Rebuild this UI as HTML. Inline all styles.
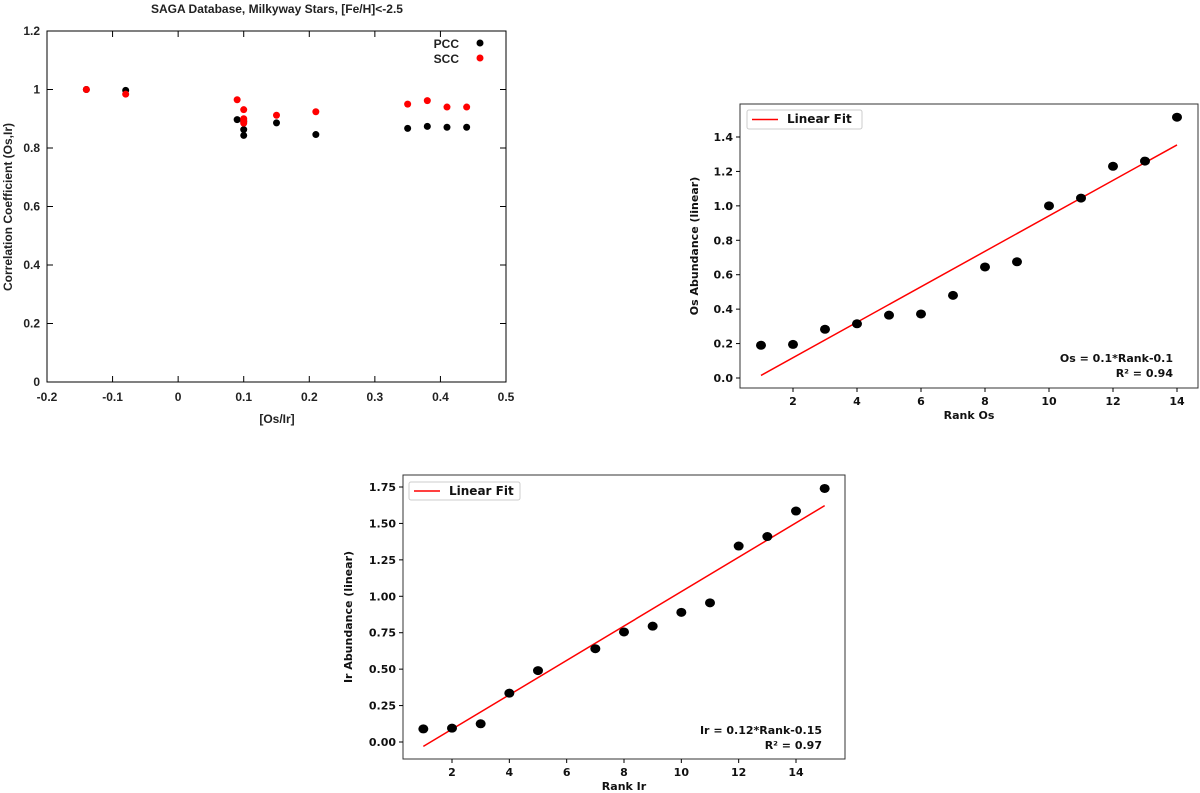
<!DOCTYPE html>
<html><head><meta charset="utf-8">
<style>
body{margin:0;background:#fff;width:1200px;height:793px;overflow:hidden}
svg{display:block}
.g{font-family:"Liberation Sans",sans-serif;font-weight:bold;font-size:12px;fill:#222}
.m{font-family:"DejaVu Sans",sans-serif;font-weight:bold;font-size:11px;fill:#111}
.lt{font-family:"DejaVu Sans",sans-serif;font-weight:bold;font-size:12px;fill:#111}
</style></head><body>
<svg id="s" width="1200" height="793" viewBox="0 0 1200 793" xmlns="http://www.w3.org/2000/svg">
<text x="787" y="123" class="lt">Linear Fit</text>
<text x="449" y="495" class="lt">Linear Fit</text>
</svg>
<script>
// Chart 1 data
const pccX=[-0.14,-0.08,0.09,0.10,0.10,0.10,0.15,0.21,0.35,0.38,0.41,0.44];
const pccY=[1.0,0.997,0.897,0.863,0.843,0.89,0.886,0.846,0.867,0.874,0.871,0.871];
const sccX=[-0.14,-0.08,0.09,0.10,0.10,0.10,0.10,0.15,0.21,0.35,0.38,0.41,0.44];
const sccY=[1.0,0.984,0.965,0.931,0.90,0.885,0.895,0.912,0.924,0.95,0.962,0.94,0.94];
const c1XTicks=[-0.2,-0.1,0,0.1,0.2,0.3,0.4,0.5];
const c1YTicks=[0,0.2,0.4,0.6,0.8,1,1.2];
// Chart 2 data
const osRank=[1,2,3,4,5,6,7,8,9,10,11,12,13,14];
const osVal=[0.19,0.195,0.283,0.315,0.365,0.372,0.48,0.645,0.675,1.0,1.045,1.23,1.26,1.515];
const osFit=[0.103,-0.088];
const c2XTicks=[2,4,6,8,10,12,14];
const c2YTicks=[0,0.2,0.4,0.6,0.8,1.0,1.2,1.4];
// Chart 3 data
const irRank=[1,2,3,4,5,7,8,9,10,11,12,13,14,15];
const irVal=[0.09,0.095,0.125,0.335,0.49,0.64,0.755,0.795,0.89,0.955,1.345,1.41,1.585,1.74];
const irFit=[0.118,-0.148];
const c3XTicks=[2,4,6,8,10,12,14];
const c3YTicks=[0,0.25,0.5,0.75,1.0,1.25,1.5,1.75];

const S=document.getElementById('s');const NS='http://www.w3.org/2000/svg';
function el(t,a,txt,p){const e=document.createElementNS(NS,t);for(const k in a)e.setAttribute(k,a[k]);if(txt!=null)e.textContent=txt;(p||S).appendChild(e);return e;}
function lin(d0,d1,r0,r1){return v=>r0+(v-d0)*(r1-r0)/(d1-d0);}

// ---- Chart 1 (gnuplot style)
{const g=el('g',{});
const X=lin(-0.2,0.5,47,506),Y=lin(0,1.2,382,31);
let t=el('text',{x:277,y:13,'text-anchor':'middle',class:'g'},'SAGA Database, Milkyway Stars, [Fe/H]<-2.5',g);
el('rect',{x:47,y:31,width:459,height:351,fill:'none',stroke:'#000','stroke-width':1},g);
c1XTicks.forEach(v=>{const x=X(v);el('line',{x1:x,x2:x,y1:382,y2:376,stroke:'#000'},g);el('line',{x1:x,x2:x,y1:31,y2:37,stroke:'#000'},g);
 const l=el('text',{x:x,y:401,'text-anchor':'middle',class:'g'},String(v),g);});
c1YTicks.forEach(v=>{const y=Y(v);el('line',{x1:47,x2:53,y1:y,y2:y,stroke:'#000'},g);el('line',{x1:506,x2:500,y1:y,y2:y,stroke:'#000'},g);
 const l=el('text',{x:40,y:y+4,'text-anchor':'end',class:'g'},String(v),g);});
t=el('text',{x:277,y:423,'text-anchor':'middle',class:'g'},'[Os/Ir]',g);
t=el('text',{x:12,y:207,'text-anchor':'middle',class:'g',transform:'rotate(-90 12 207)'},'Correlation Coefficient (Os,Ir)',g);
pccX.forEach((v,i)=>{const c=el('circle',{cx:X(v),cy:Y(pccY[i]),r:3.5,fill:'#000'},g);});
sccX.forEach((v,i)=>{const c=el('circle',{cx:X(v),cy:Y(sccY[i]),r:3.5,fill:'#f00'},g);});
t=el('text',{x:459,y:48,'text-anchor':'end',class:'g'},'PCC',g);
el('circle',{cx:480,cy:43,r:3.5,fill:'#000'},g);
t=el('text',{x:459,y:63,'text-anchor':'end',class:'g'},'SCC',g);
el('circle',{cx:480,cy:58,r:3.5,fill:'#f00'},g);}

// ---- matplotlib charts
function mpl(o){const g=el('g',{});
const X=lin(o.xd[0],o.xd[1],o.xr[0],o.xr[1]),Y=lin(o.yd[0],o.yd[1],o.yr[0],o.yr[1]);
const b=o.box;
const x0=o.xs[0],x1=o.xs[o.xs.length-1];
const f=el('line',{x1:X(x0),y1:Y(o.fit[0]*x0+o.fit[1]),x2:X(x1),y2:Y(o.fit[0]*x1+o.fit[1]),stroke:'#f00','stroke-width':1.5},g);
o.xs.forEach((v,i)=>{const c=el('ellipse',{cx:X(v),cy:Y(o.ys[i]),rx:5,ry:4.5,fill:'#000'},g);});
el('rect',{x:b[0],y:b[1],width:b[2]-b[0],height:b[3]-b[1],fill:'none',stroke:'#333','stroke-width':1},g);
o.xt.forEach(v=>{const x=X(v);el('line',{x1:x,x2:x,y1:b[3],y2:b[3]+4,stroke:'#000'},g);
 const l=el('text',{x:x,y:b[3]+17,'text-anchor':'middle',class:'m'},String(v),g);});
o.yt.forEach(v=>{const y=Y(v);el('line',{x1:b[0]-4,x2:b[0],y1:y,y2:y,stroke:'#000'},g);
 const l=el('text',{x:b[0]-7,y:y+4,'text-anchor':'end',class:'m'},v.toFixed(o.dec),g);});
let t=el('text',{x:(b[0]+b[2])/2,y:b[3]+31,'text-anchor':'middle',class:'m'},o.xl,g);
t=el('text',{x:o.ylx,y:(b[1]+b[3])/2,'text-anchor':'middle',class:'m',transform:`rotate(-90 ${o.ylx} ${(b[1]+b[3])/2})`},o.yl,g);
const L=o.leg;
const r=el('rect',{x:L[0],y:L[1],width:L[2]-L[0],height:L[3]-L[1],fill:'none',stroke:'#ccc',rx:2},g);
el('line',{x1:L[0]+5,x2:L[0]+31,y1:(L[1]+L[3])/2,y2:(L[1]+L[3])/2,stroke:'#f00','stroke-width':1.5},g);
t=el('text',{x:o.ann[0],y:o.ann[1],'text-anchor':'end',class:'m'},o.a1,g);
t=el('text',{x:o.ann[0],y:o.ann[1]+15,'text-anchor':'end',class:'m'},o.a2,g);}

mpl({name:'os-rank-chart',xd:[2,14],xr:[793,1177],yd:[0,1.4],yr:[378,137],box:[740,104,1198,388],xs:osRank,ys:osVal,fit:osFit,xt:c2XTicks,yt:c2YTicks,dec:1,xl:'Rank Os',yl:'Os Abundance (linear)',ylx:698,leg:[747,110,862,129],ann:[1173,362],a1:'Os = 0.1*Rank-0.1',a2:'R² = 0.94'});
mpl({name:'ir-rank-chart',xd:[2,14],xr:[452,796],yd:[0,1.75],yr:[742,487],box:[403,475,845,759],xs:irRank,ys:irVal,fit:irFit,xt:c3XTicks,yt:c3YTicks,dec:2,xl:'Rank Ir',yl:'Ir Abundance (linear)',ylx:352,leg:[409,482,520,500],ann:[822,734],a1:'Ir = 0.12*Rank-0.15',a2:'R² = 0.97'});
</script>
</body></html>
